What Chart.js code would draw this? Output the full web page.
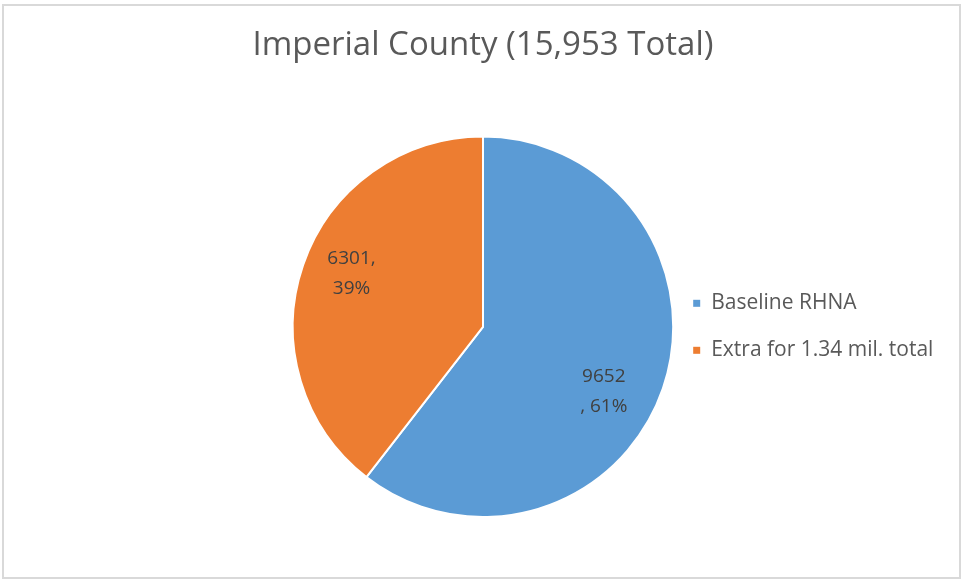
<!DOCTYPE html>
<html>
<head>
<meta charset="utf-8">
<title>Imperial County</title>
<script src="https://cdn.jsdelivr.net/npm/chart.js@4.4.1/dist/chart.umd.min.js"></script>
<style>
  html, body { margin: 0; padding: 0; background: #fff; overflow: hidden; }
  #wrap { position: relative; width: 961px; height: 580px; }
</style>
</head>
<body>
<div id="wrap"><canvas id="pie"></canvas></div>
<script>
const categories = ['Baseline RHNA', 'Extra for 1.34 mil. total'];
const units = [9652, 6301];
const colors = ['#5B9BD5', '#ED7D31'];
const titleText = 'Imperial County (15,953 Total)';

const total = units.reduce((a, b) => a + b, 0);
const percents = units.map(v => Math.round(v / total * 100));
// two-line slice captions, wrapped the way the spreadsheet wraps them
const sliceLines = [
    [String(units[0]), ', ' + percents[0] + '%'],
    [units[1] + ',', percents[1] + '%'],
];
// nudge from the slice's mid angle (degrees) and distance as share of radius
const labelSpots = [{turn: 9.2, dist: 0.72}, {turn: 3.0, dist: 0.745}];

const FONT = '"Open Sans"';

const frame = {
    id: 'frame',
    beforeDraw(chart) {
        const ctx = chart.ctx;
        ctx.save();
        ctx.fillStyle = '#fff';
        ctx.fillRect(0, 0, chart.width, chart.height);
        ctx.strokeStyle = '#d9d9d9';
        ctx.lineWidth = 2;
        ctx.strokeRect(3, 5, chart.width - 4, chart.height - 7);
        ctx.restore();
    }
};

const sliceText = {
    id: 'sliceText',
    afterDatasetsDraw(chart) {
        const ctx = chart.ctx;
        const arcs = chart.getDatasetMeta(0).data;
        ctx.save();
        ctx.font = '19px ' + FONT;
        ctx.fillStyle = '#404040';
        ctx.textAlign = 'center';
        ctx.textBaseline = 'middle';
        arcs.forEach((arc, i) => {
            const p = arc.getProps(['x', 'y', 'startAngle', 'endAngle', 'outerRadius'], true);
            const mid = (p.startAngle + p.endAngle) / 2 + labelSpots[i].turn * Math.PI / 180;
            const r = p.outerRadius * labelSpots[i].dist;
            const cx = p.x + Math.cos(mid) * r;
            const cy = p.y + Math.sin(mid) * r;
            const lines = sliceLines[i];
            lines.forEach((t, k) => {
                ctx.fillText(t, cx, cy + (k - (lines.length - 1) / 2) * 30);
            });
        });
        ctx.restore();
    }
};

// legend to the right of the pie, while the pie itself stays centred on the page
const sideLegend = {
    id: 'sideLegend',
    afterDraw(chart) {
        const ctx = chart.ctx;
        const arc = chart.getDatasetMeta(0).data[0];
        const p = arc.getProps(['x', 'y', 'outerRadius'], true);
        const left = p.x + p.outerRadius + 20;
        const step = 47;
        const top = p.y - step * (categories.length - 1) / 2;
        ctx.save();
        ctx.font = '21px ' + FONT;
        ctx.textBaseline = 'middle';
        ctx.textAlign = 'left';
        categories.forEach((name, i) => {
            const y = top + i * step;
            ctx.fillStyle = colors[i];
            ctx.fillRect(left, y - 3.5, 7, 7);
            ctx.fillStyle = '#595959';
            ctx.fillText(name, left + 18, y);
        });
        ctx.restore();
    }
};

Chart.defaults.font.family = FONT;

new Chart(document.getElementById('pie'), {
    type: 'pie',
    data: {
        labels: categories,
        datasets: [{
            data: units,
            backgroundColor: colors,
            borderColor: '#fff',
            borderWidth: 2,
        }]
    },
    options: {
        responsive: true,
        maintainAspectRatio: false,
        animation: false,
        events: [],
        layout: {
            padding: {left: 5, right: 0, top: 0, bottom: 62},
        },
        plugins: {
            legend: {display: false},
            tooltip: {enabled: false},
            title: {
                display: true,
                text: titleText,
                color: '#595959',
                font: {size: 33, weight: 'normal'},
                padding: {top: 26, bottom: 70},
            },
        },
    },
    plugins: [frame, sliceText, sideLegend],
});
</script>
</body>
</html>
